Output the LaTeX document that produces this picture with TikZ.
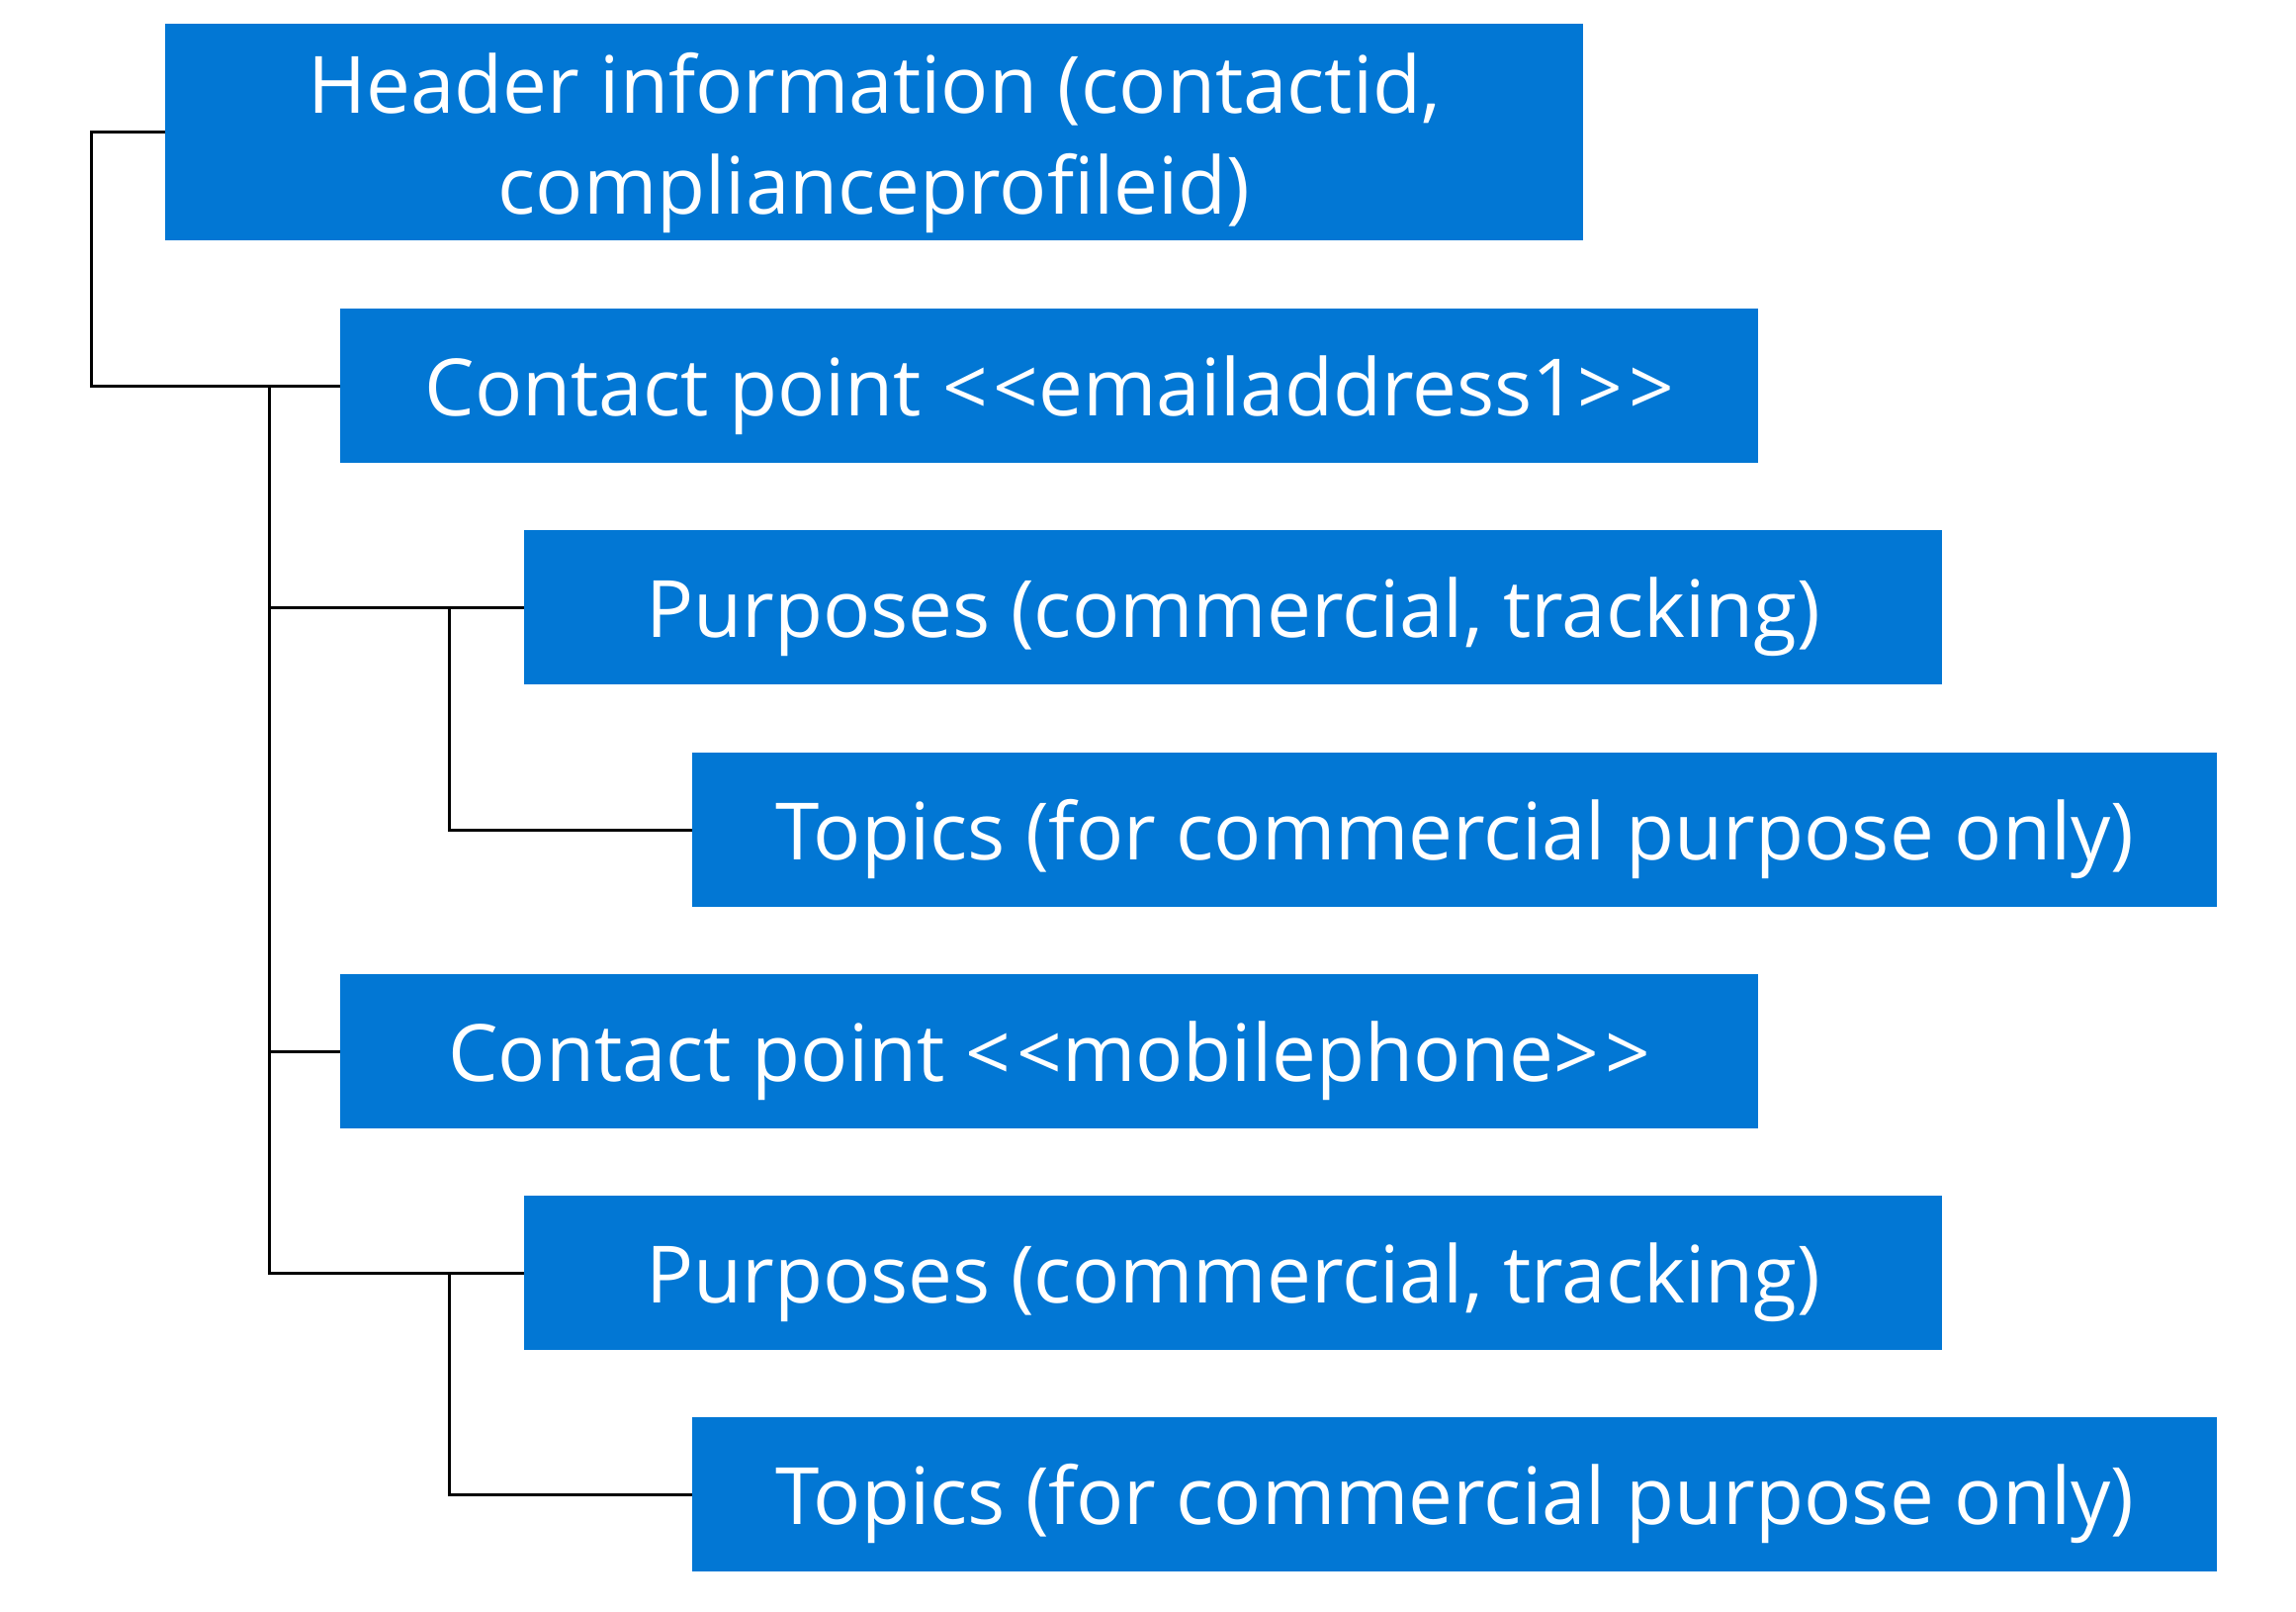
\documentclass[tikz,border=0pt]{standalone}
\usepackage{fontspec}
\setmainfont{Open Sans}
\definecolor{msblue}{RGB}{2,119,212}
\newcommand{\dlt}{<\kern6pt<}
\newcommand{\dgt}{>\kern6pt>}
\begin{document}
\begin{tikzpicture}[x=1pt,y=-1pt,
  box/.style={fill=msblue, text=white, inner sep=0pt, anchor=north west,
    align=center, font=\fontsize{80}{102}\selectfont,
    text height=60pt, text depth=0pt},
  wide/.style={box, minimum width=1434pt, minimum height=156pt},
  widest/.style={box, minimum width=1542pt, minimum height=156pt},
  link/.style={draw=black, line width=3pt}]
  \fill[white] (0,0) rectangle (2322,1630);
  \useasboundingbox (0,0) rectangle (2322,1630);

  % record blocks
  \node[box, minimum width=1434pt, minimum height=219pt,
        text height=166pt, text depth=0pt] (h) at (167,24)
    {Header information (contactid,\\complianceprofileid)};
  \node[wide]   (c1) at (344,312)  {Contact point \dlt emailaddress1\dgt};
  \node[wide]   (p1) at (530,536)  {Purposes (commercial, tracking)};
  \node[widest] (t1) at (700,761)  {Topics (for commercial purpose only)};
  \node[wide]   (c2) at (344,985)  {Contact point \dlt mobilephone\dgt};
  \node[wide]   (p2) at (530,1209) {Purposes (commercial, tracking)};
  \node[widest] (t2) at (700,1433) {Topics (for commercial purpose only)};

  % hierarchy connectors
  \draw[link] (h.west) -- ++(-75,0) |- (c1.west);
  \draw[link] (c1.west) ++(-72,0) |- (p1.west);
  \draw[link] (c1.west) ++(-72,0) |- (c2.west);
  \draw[link] (c1.west) ++(-72,0) |- (p2.west);
  \draw[link] (p1.west) ++(-76,0) |- (t1.west);
  \draw[link] (p2.west) ++(-76,0) |- (t2.west);
\end{tikzpicture}
\end{document}
